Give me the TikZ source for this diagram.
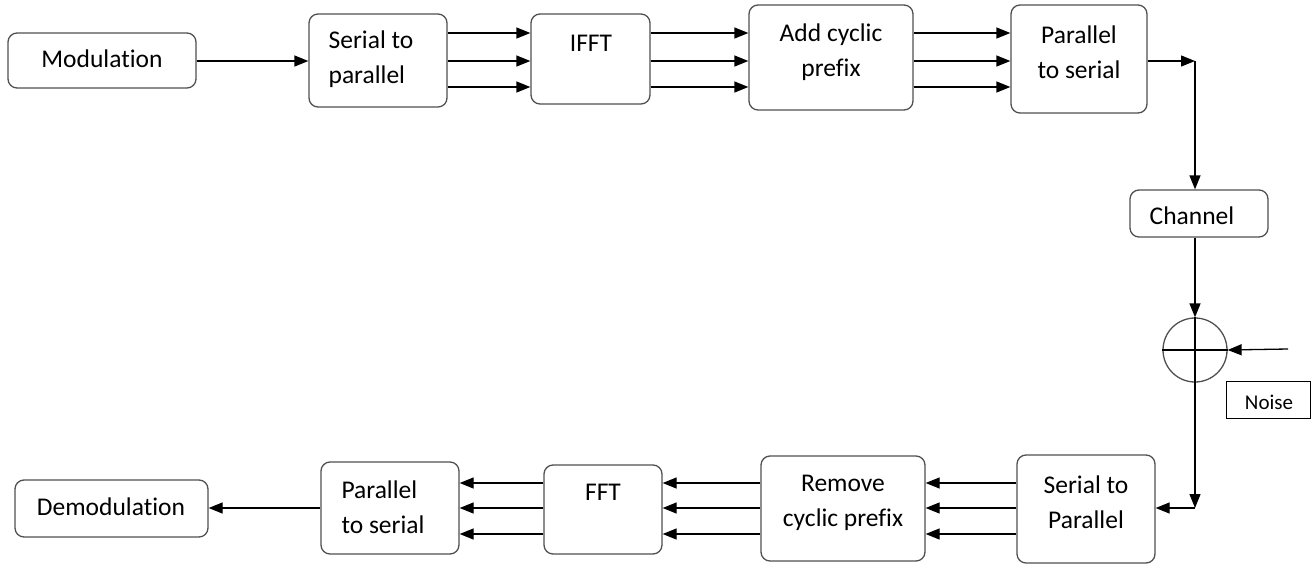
\documentclass[tikz,border=0pt]{standalone}
\usepackage{fontspec}
\setmainfont[Ligatures={NoCommon}]{Carlito}
\usetikzlibrary{arrows.meta,calc}
\definecolor{edge}{HTML}{505050}
\tikzset{
  blk/.style={draw=edge, line width=1.3pt, rounded corners=9pt, inner sep=0pt, fill=white},
  lbl/.style={font=\fontsize{25.5}{35}\selectfont, inner sep=0pt, text=black},
  arr/.style={line width=1.3pt, -{Triangle[length=14pt,width=11pt]}},
  wire/.style={line width=1.3pt},
}
\begin{document}
\begin{tikzpicture}[x=1pt,y=-1pt]
\useasboundingbox (0,0) rectangle (1315,565);

% transmitter chain
\node[blk, minimum width=188pt, minimum height=55pt] (mod) at (102,60.5) {};
\node[lbl] (modT) at (102,59) {Modulation};
\node[blk, minimum width=138pt, minimum height=93pt] (s2p) at (378,60.5) {};
\node[lbl, align=left] (s2pT) at (371,59.5) {Serial to\\parallel};
\node[blk, minimum width=119pt, minimum height=90pt] (ifft) at (590.5,59) {};
\node[lbl] (ifftT) at (591,43) {IFFT};
\node[blk, minimum width=164pt, minimum height=105pt] (acp) at (831,57.5) {};
\node[lbl, align=center] (acpT) at (831,52.5) {Add cyclic\\prefix};
\node[blk, minimum width=136pt, minimum height=108pt] (p2s) at (1079,59) {};
\node[lbl, align=center] (p2sT) at (1079,52) {Parallel\\to serial};

% channel and noise
\node[blk, minimum width=138pt, minimum height=47pt] (chan) at (1199,213.5) {};
\node[lbl] (chanT) at (1192,216) {Channel};
\node[draw=edge, line width=1.3pt, circle, minimum size=64pt, inner sep=0pt] (sum) at (1195,350) {};
\draw[wire] (sum.north) -- (sum.south);
\draw[wire] (sum.west) -- (sum.east);
\node[draw=black, line width=1pt, minimum width=84pt, minimum height=37pt, inner sep=0pt] (noise) at (1268,399.5) {};
\node[lbl, font=\fontsize{21}{25}\selectfont] (noiseT) at (1269,402) {Noise};
\coordinate (noiseIn) at (1288,349);

% receiver chain
\node[blk, minimum width=138pt, minimum height=108pt] (s2p2) at (1086,509) {};
\node[lbl, align=center] (s2p2T) at (1086,502.5) {Serial to\\Parallel};
\node[blk, minimum width=164pt, minimum height=105pt] (rcp) at (843,508.5) {};
\node[lbl, align=center] (rcpT) at (843,502.5) {Remove\\cyclic prefix};
\node[blk, minimum width=118pt, minimum height=89pt] (fft) at (603,509.5) {};
\node[lbl] (fftT) at (603,492) {FFT};
\node[blk, minimum width=138pt, minimum height=92pt] (p2s2) at (390,508) {};
\node[lbl, align=left] (p2s2T) at (383,507.5) {Parallel\\to serial};
\node[blk, minimum width=193pt, minimum height=57pt] (demod) at (111.5,508.5) {};
\node[lbl] (demodT) at (111,507) {Demodulation};

% corner points of the loop
\coordinate (c1) at (1195,61);
\coordinate (c2) at (1195,508);

% connectors, transmitter side
\draw[arr] (mod.east |- 0,61) -- (s2p.west |- 0,61);
\foreach \y in {33,61,87} {
  \draw[arr] (s2p.east |- 0,\y) -- (ifft.west |- 0,\y);
  \draw[arr] (ifft.east |- 0,\y) -- (acp.west |- 0,\y);
  \draw[arr] (acp.east |- 0,\y) -- (p2s.west |- 0,\y);
}
\draw[arr] (p2s.east |- c1) -- (c1);
\draw[arr] (c1) -- (c1 |- chan.north);
\draw[arr] (c1 |- chan.south) -- (sum.north);
\draw[arr] (noiseIn) -- (sum.east);
\draw[arr] (sum.south) -- (c2);
\draw[arr] (c2) -- (s2p2.east |- c2);

% connectors, receiver side
\foreach \y in {483,508,534} {
  \draw[arr] (s2p2.west |- 0,\y) -- (rcp.east |- 0,\y);
  \draw[arr] (rcp.west |- 0,\y) -- (fft.east |- 0,\y);
  \draw[arr] (fft.west |- 0,\y) -- (p2s2.east |- 0,\y);
}
\draw[arr] (p2s2.west |- 0,508) -- (demod.east |- 0,508);
\end{tikzpicture}
\end{document}
